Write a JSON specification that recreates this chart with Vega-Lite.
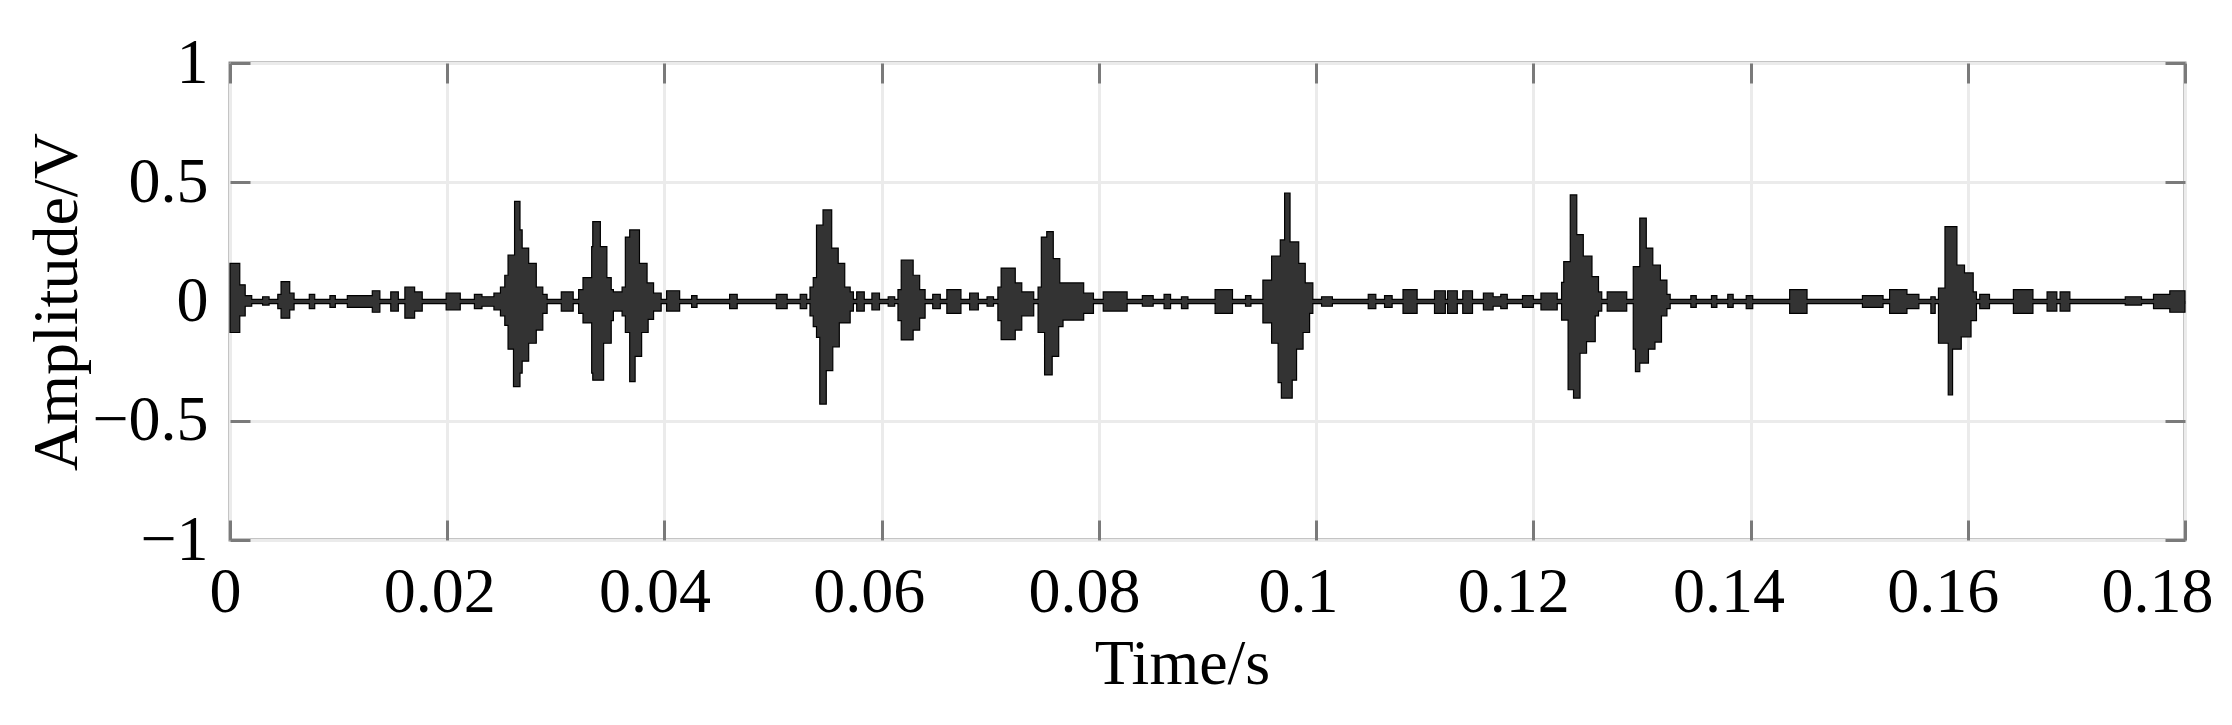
{
"$schema": "https://vega.github.io/schema/vega-lite/v6.json",
"width": 1955, "height": 477,
"autosize": {"type": "none"},
"padding": {"left": 230, "top": 63, "right": 47, "bottom": 185},
"background": "white",
"config": {
 "view": {"stroke": "#8a8a8a", "strokeWidth": 3},
 "font": "Liberation Serif",
 "axis": {"labelFont": "Liberation Serif", "titleFont": "Liberation Serif", "labelFontSize": 64, "titleFontSize": 64, "labelColor": "black", "titleColor": "black", "titleFontWeight": "normal", "gridColor": "#ebebeb", "gridWidth": 3, "tickColor": "#7a7a7a", "tickWidth": 3, "tickSize": -20, "domain": false, "labelFlush": false, "labelOverlap": false, "format": "~g"}
},
"data": {"values": [
{"t":0,"hi":0.16,"lo":-0.13},{"t":0.0009,"hi":0.07,"lo":-0.06},{"t":0.0014,"hi":0.025,"lo":-0.02},{"t":0.002,"hi":0.009,"lo":-0.009},{"t":0.003,"hi":0.02,"lo":-0.015},{"t":0.0036,"hi":0.009,"lo":-0.009},{"t":0.0044,"hi":0.03,"lo":-0.03},{"t":0.0047,"hi":0.083,"lo":-0.07},{"t":0.0055,"hi":0.035,"lo":-0.035},{"t":0.0059,"hi":0.009,"lo":-0.009},{"t":0.0073,"hi":0.03,"lo":-0.03},{"t":0.0078,"hi":0.009,"lo":-0.009},{"t":0.0092,"hi":0.025,"lo":-0.025},{"t":0.0097,"hi":0.009,"lo":-0.009},{"t":0.0108,"hi":0.025,"lo":-0.025},{"t":0.0131,"hi":0.045,"lo":-0.045},{"t":0.0138,"hi":0.009,"lo":-0.009},{"t":0.0148,"hi":0.04,"lo":-0.04},{"t":0.0155,"hi":0.009,"lo":-0.009},{"t":0.0161,"hi":0.06,"lo":-0.07},{"t":0.017,"hi":0.04,"lo":-0.04},{"t":0.0177,"hi":0.009,"lo":-0.009},{"t":0.0199,"hi":0.035,"lo":-0.035},{"t":0.0212,"hi":0.009,"lo":-0.009},{"t":0.0225,"hi":0.03,"lo":-0.03},{"t":0.0232,"hi":0.02,"lo":-0.02},{"t":0.0243,"hi":0.035,"lo":-0.035},
{"t":0.0249,"hi":0.06,"lo":-0.06},{"t":0.0253,"hi":0.11,"lo":-0.1},{"t":0.0256,"hi":0.195,"lo":-0.2},{"t":0.0261,"hi":0.195,"lo":-0.357},{"t":0.0262,"hi":0.42,"lo":-0.357},{"t":0.0267,"hi":0.3,"lo":-0.3},{"t":0.0269,"hi":0.224,"lo":-0.25},{"t":0.0275,"hi":0.16,"lo":-0.175},{"t":0.0282,"hi":0.06,"lo":-0.12},{"t":0.0288,"hi":0.03,"lo":-0.05},{"t":0.0292,"hi":0.009,"lo":-0.009},{"t":0.0305,"hi":0.04,"lo":-0.04},{"t":0.0316,"hi":0.009,"lo":-0.009},
{"t":0.0321,"hi":0.05,"lo":-0.05},{"t":0.0325,"hi":0.1,"lo":-0.09},{"t":0.0333,"hi":0.23,"lo":-0.3},{"t":0.0334,"hi":0.335,"lo":-0.33},{"t":0.0341,"hi":0.23,"lo":-0.33},{"t":0.0344,"hi":0.23,"lo":-0.175},{"t":0.0347,"hi":0.1,"lo":-0.175},{"t":0.0351,"hi":0.05,"lo":-0.08},{"t":0.0353,"hi":0.04,"lo":-0.04},
{"t":0.0361,"hi":0.06,"lo":-0.06},{"t":0.0364,"hi":0.27,"lo":-0.13},{"t":0.0368,"hi":0.3,"lo":-0.336},{"t":0.0373,"hi":0.3,"lo":-0.23},{"t":0.0377,"hi":0.16,"lo":-0.23},{"t":0.0379,"hi":0.16,"lo":-0.13},{"t":0.0384,"hi":0.078,"lo":-0.13},{"t":0.0385,"hi":0.078,"lo":-0.075},{"t":0.039,"hi":0.035,"lo":-0.04},{"t":0.0397,"hi":0.009,"lo":-0.009},
{"t":0.0402,"hi":0.045,"lo":-0.04},{"t":0.0414,"hi":0.009,"lo":-0.009},{"t":0.0425,"hi":0.025,"lo":-0.025},{"t":0.043,"hi":0.009,"lo":-0.009},{"t":0.046,"hi":0.03,"lo":-0.03},{"t":0.0467,"hi":0.009,"lo":-0.009},{"t":0.0503,"hi":0.03,"lo":-0.03},{"t":0.0513,"hi":0.009,"lo":-0.009},{"t":0.0525,"hi":0.03,"lo":-0.03},{"t":0.0531,"hi":0.009,"lo":-0.009},
{"t":0.0534,"hi":0.06,"lo":-0.06},{"t":0.0537,"hi":0.1,"lo":-0.105},{"t":0.054,"hi":0.32,"lo":-0.15},{"t":0.0543,"hi":0.32,"lo":-0.43},{"t":0.0546,"hi":0.384,"lo":-0.43},{"t":0.0549,"hi":0.384,"lo":-0.29},{"t":0.0554,"hi":0.224,"lo":-0.29},{"t":0.0555,"hi":0.224,"lo":-0.19},{"t":0.056,"hi":0.16,"lo":-0.19},{"t":0.0561,"hi":0.16,"lo":-0.09},{"t":0.0566,"hi":0.06,"lo":-0.09},{"t":0.0571,"hi":0.04,"lo":-0.04},{"t":0.0574,"hi":0.009,"lo":-0.009},
{"t":0.0577,"hi":0.04,"lo":-0.04},{"t":0.0584,"hi":0.009,"lo":-0.009},{"t":0.0591,"hi":0.035,"lo":-0.035},{"t":0.0598,"hi":0.009,"lo":-0.009},{"t":0.0606,"hi":0.02,"lo":-0.02},{"t":0.0612,"hi":0.009,"lo":-0.009},
{"t":0.0615,"hi":0.05,"lo":-0.08},{"t":0.0618,"hi":0.174,"lo":-0.161},{"t":0.0629,"hi":0.11,"lo":-0.12},{"t":0.0635,"hi":0.05,"lo":-0.07},{"t":0.064,"hi":0.009,"lo":-0.009},
{"t":0.0647,"hi":0.03,"lo":-0.03},{"t":0.0654,"hi":0.009,"lo":-0.009},{"t":0.066,"hi":0.05,"lo":-0.05},{"t":0.0673,"hi":0.009,"lo":-0.009},{"t":0.0681,"hi":0.035,"lo":-0.035},{"t":0.0689,"hi":0.009,"lo":-0.009},{"t":0.0697,"hi":0.02,"lo":-0.02},{"t":0.0703,"hi":0.009,"lo":-0.009},
{"t":0.0707,"hi":0.06,"lo":-0.08},{"t":0.071,"hi":0.14,"lo":-0.16},{"t":0.0723,"hi":0.078,"lo":-0.12},{"t":0.0729,"hi":0.04,"lo":-0.06},{"t":0.074,"hi":0.009,"lo":-0.009},
{"t":0.0744,"hi":0.06,"lo":-0.13},{"t":0.0747,"hi":0.27,"lo":-0.13},{"t":0.075,"hi":0.27,"lo":-0.308},{"t":0.0752,"hi":0.293,"lo":-0.308},{"t":0.0757,"hi":0.293,"lo":-0.23},{"t":0.0758,"hi":0.18,"lo":-0.23},{"t":0.0763,"hi":0.18,"lo":-0.105},{"t":0.0764,"hi":0.078,"lo":-0.105},{"t":0.0767,"hi":0.078,"lo":-0.078},{"t":0.0786,"hi":0.035,"lo":-0.05},{"t":0.0795,"hi":0.009,"lo":-0.009},
{"t":0.0804,"hi":0.04,"lo":-0.04},{"t":0.0826,"hi":0.009,"lo":-0.009},{"t":0.084,"hi":0.025,"lo":-0.02},{"t":0.085,"hi":0.009,"lo":-0.009},{"t":0.086,"hi":0.03,"lo":-0.03},{"t":0.0866,"hi":0.009,"lo":-0.009},{"t":0.0876,"hi":0.02,"lo":-0.03},{"t":0.0882,"hi":0.009,"lo":-0.009},{"t":0.0907,"hi":0.05,"lo":-0.05},{"t":0.0923,"hi":0.009,"lo":-0.009},{"t":0.0935,"hi":0.025,"lo":-0.02},{"t":0.094,"hi":0.009,"lo":-0.009},
{"t":0.0951,"hi":0.09,"lo":-0.09},{"t":0.0959,"hi":0.19,"lo":-0.175},{"t":0.0965,"hi":0.19,"lo":-0.34},{"t":0.0967,"hi":0.258,"lo":-0.34},{"t":0.0968,"hi":0.258,"lo":-0.405},{"t":0.0971,"hi":0.455,"lo":-0.405},{"t":0.0976,"hi":0.25,"lo":-0.405},{"t":0.0978,"hi":0.25,"lo":-0.33},{"t":0.0982,"hi":0.25,"lo":-0.2},{"t":0.0984,"hi":0.16,"lo":-0.2},{"t":0.0988,"hi":0.16,"lo":-0.13},{"t":0.099,"hi":0.078,"lo":-0.13},{"t":0.0994,"hi":0.078,"lo":-0.05},{"t":0.0997,"hi":0.009,"lo":-0.009},
{"t":0.1005,"hi":0.02,"lo":-0.02},{"t":0.1015,"hi":0.009,"lo":-0.009},{"t":0.1048,"hi":0.03,"lo":-0.03},{"t":0.1055,"hi":0.009,"lo":-0.009},{"t":0.1063,"hi":0.025,"lo":-0.025},{"t":0.107,"hi":0.009,"lo":-0.009},{"t":0.108,"hi":0.05,"lo":-0.05},{"t":0.1093,"hi":0.009,"lo":-0.009},{"t":0.1109,"hi":0.045,"lo":-0.05},{"t":0.1119,"hi":0.009,"lo":-0.009},{"t":0.1121,"hi":0.045,"lo":-0.05},{"t":0.113,"hi":0.009,"lo":-0.009},{"t":0.1135,"hi":0.045,"lo":-0.05},{"t":0.1144,"hi":0.009,"lo":-0.009},{"t":0.1154,"hi":0.035,"lo":-0.035},{"t":0.1163,"hi":0.02,"lo":-0.02},{"t":0.117,"hi":0.03,"lo":-0.03},{"t":0.1176,"hi":0.009,"lo":-0.009},{"t":0.119,"hi":0.025,"lo":-0.025},{"t":0.12,"hi":0.009,"lo":-0.009},{"t":0.1207,"hi":0.035,"lo":-0.035},{"t":0.1222,"hi":0.009,"lo":-0.009},
{"t":0.1226,"hi":0.08,"lo":-0.078},{"t":0.1228,"hi":0.167,"lo":-0.078},{"t":0.1232,"hi":0.167,"lo":-0.37},{"t":0.1234,"hi":0.447,"lo":-0.37},{"t":0.1237,"hi":0.447,"lo":-0.405},{"t":0.124,"hi":0.28,"lo":-0.405},{"t":0.1243,"hi":0.28,"lo":-0.217},{"t":0.1246,"hi":0.19,"lo":-0.217},{"t":0.1249,"hi":0.19,"lo":-0.168},{"t":0.1254,"hi":0.104,"lo":-0.168},{"t":0.1257,"hi":0.104,"lo":-0.06},{"t":0.126,"hi":0.04,"lo":-0.04},{"t":0.1263,"hi":0.009,"lo":-0.009},
{"t":0.1268,"hi":0.04,"lo":-0.04},{"t":0.1286,"hi":0.009,"lo":-0.009},
{"t":0.1292,"hi":0.146,"lo":-0.2},{"t":0.1294,"hi":0.146,"lo":-0.294},{"t":0.1298,"hi":0.35,"lo":-0.258},{"t":0.1304,"hi":0.224,"lo":-0.258},{"t":0.1306,"hi":0.224,"lo":-0.2},{"t":0.131,"hi":0.153,"lo":-0.2},{"t":0.1312,"hi":0.153,"lo":-0.17},{"t":0.1317,"hi":0.09,"lo":-0.17},{"t":0.1318,"hi":0.09,"lo":-0.06},{"t":0.1323,"hi":0.03,"lo":-0.03},{"t":0.1326,"hi":0.009,"lo":-0.009},
{"t":0.1345,"hi":0.025,"lo":-0.025},{"t":0.135,"hi":0.009,"lo":-0.009},{"t":0.1364,"hi":0.025,"lo":-0.025},{"t":0.1369,"hi":0.009,"lo":-0.009},{"t":0.1379,"hi":0.03,"lo":-0.025},{"t":0.1384,"hi":0.009,"lo":-0.009},{"t":0.1396,"hi":0.025,"lo":-0.03},{"t":0.1402,"hi":0.009,"lo":-0.009},{"t":0.1436,"hi":0.05,"lo":-0.05},{"t":0.1452,"hi":0.009,"lo":-0.009},{"t":0.1503,"hi":0.025,"lo":-0.025},{"t":0.1522,"hi":0.009,"lo":-0.009},{"t":0.1528,"hi":0.05,"lo":-0.05},{"t":0.1544,"hi":0.03,"lo":-0.03},{"t":0.1555,"hi":0.009,"lo":-0.009},{"t":0.1566,"hi":0.02,"lo":-0.05},{"t":0.157,"hi":0.009,"lo":-0.009},
{"t":0.1573,"hi":0.056,"lo":-0.175},{"t":0.1579,"hi":0.314,"lo":-0.175},{"t":0.1582,"hi":0.314,"lo":-0.392},{"t":0.1586,"hi":0.314,"lo":-0.2},{"t":0.159,"hi":0.153,"lo":-0.2},{"t":0.1594,"hi":0.153,"lo":-0.148},{"t":0.1597,"hi":0.12,"lo":-0.148},{"t":0.1603,"hi":0.12,"lo":-0.08},{"t":0.1605,"hi":0.04,"lo":-0.08},{"t":0.1608,"hi":0.009,"lo":-0.009},
{"t":0.1611,"hi":0.03,"lo":-0.03},{"t":0.162,"hi":0.009,"lo":-0.009},{"t":0.1642,"hi":0.05,"lo":-0.05},{"t":0.166,"hi":0.009,"lo":-0.009},{"t":0.1673,"hi":0.04,"lo":-0.04},{"t":0.1682,"hi":0.009,"lo":-0.009},{"t":0.1685,"hi":0.04,"lo":-0.04},{"t":0.1694,"hi":0.009,"lo":-0.009},{"t":0.1745,"hi":0.02,"lo":-0.015},{"t":0.176,"hi":0.009,"lo":-0.009},{"t":0.1771,"hi":0.03,"lo":-0.03},{"t":0.1786,"hi":0.045,"lo":-0.045},{"t":0.18,"hi":0.045,"lo":-0.045}
]},
"layer": [
 {"mark": {"type": "area", "interpolate": "step-after", "color": "#333333"},
  "encoding": {
   "x": {"field": "t", "type": "quantitative", "scale": {"domain": [0, 0.18], "nice": false, "zero": false},
         "axis": {"values": [0,0.02,0.04,0.06,0.08,0.1,0.12,0.14,0.16,0.18], "title": "Time/s", "labelPadding": 40, "titlePadding": 8, "titleX": 952,
                  "labelOffset": {"condition": [
                    {"test": "datum.value >= 0.17", "value": -28},
                    {"test": "datum.value >= 0.15", "value": -25},
                    {"test": "datum.value >= 0.13", "value": -22},
                    {"test": "datum.value >= 0.11", "value": -20},
                    {"test": "datum.value >= 0.09", "value": -18},
                    {"test": "datum.value >= 0.07", "value": -15},
                    {"test": "datum.value >= 0.05", "value": -13},
                    {"test": "datum.value >= 0.03", "value": -10},
                    {"test": "datum.value >= 0.01", "value": -8}], "value": -5}}},
   "y": {"field": "hi", "type": "quantitative", "scale": {"domain": [-1, 1], "nice": false, "zero": false},
         "axis": {"values": [-1,-0.5,0,0.5,1], "title": "Amplitude/V", "labelPadding": 42, "titlePadding": 2}},
   "y2": {"field": "lo"}
  }},
 {"mark": {"type": "area", "interpolate": "step-after", "fillOpacity": 0, "stroke": "#000000", "strokeWidth": 1.2},
  "encoding": {
   "x": {"field": "t", "type": "quantitative", "axis": {"orient": "top", "values": [0,0.02,0.04,0.06,0.08,0.1,0.12,0.14,0.16,0.18], "labels": false, "grid": false, "title": null}},
   "y": {"field": "hi", "type": "quantitative", "axis": {"orient": "right", "values": [-1,-0.5,0,0.5,1], "labels": false, "grid": false, "title": null}},
   "y2": {"field": "lo"}
  }}
],
"resolve": {"axis": {"x": "independent", "y": "independent"}}
}
